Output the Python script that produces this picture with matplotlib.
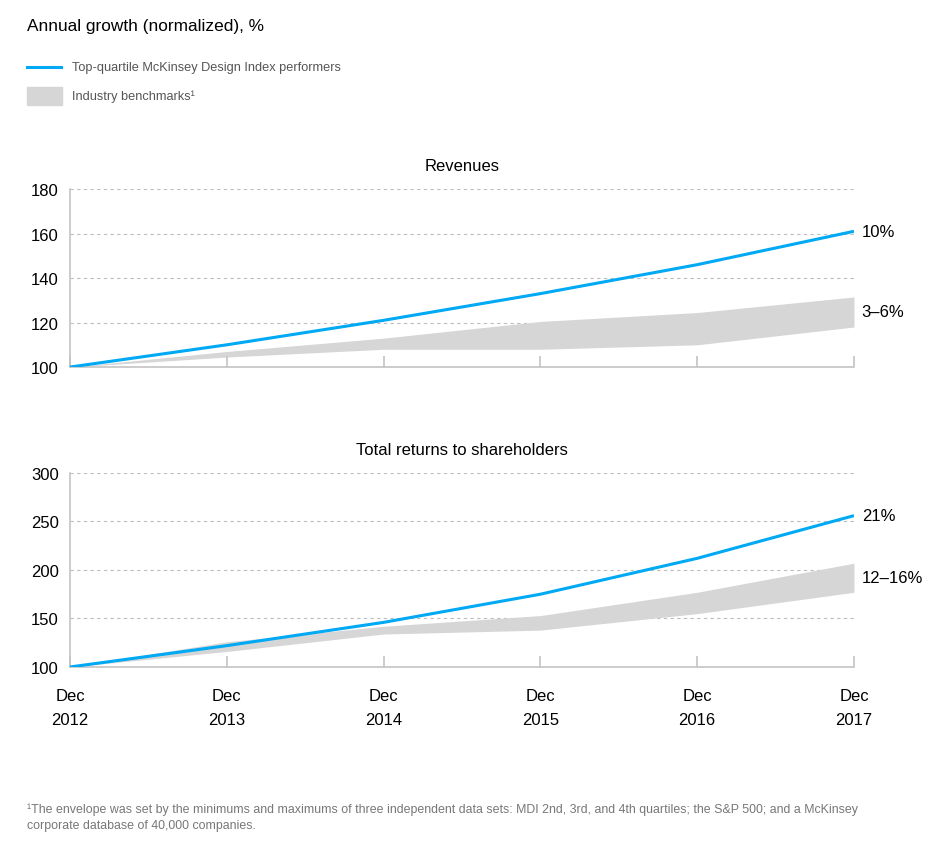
import matplotlib.pyplot as plt
from matplotlib.patches import Rectangle
from matplotlib.lines import Line2D

plt.rcParams['font.family'] = ['Liberation Sans', 'DejaVu Sans']

years = [2012, 2013, 2014, 2015, 2016, 2017]
year_labels = ['Dec\n2012', 'Dec\n2013', 'Dec\n2014', 'Dec\n2015', 'Dec\n2016', 'Dec\n2017']

rev_top = [100, 110, 121, 133, 146, 161]
rev_low = [100, 104.5, 108, 108, 110, 118]
rev_high = [100, 107, 113, 120.5, 124.5, 131.5]

tsr_top = [100, 122, 146, 175, 212, 256]
tsr_low = [100, 116, 134, 138, 155, 177]
tsr_high = [100, 126, 142, 153, 177, 207]

blue = '#00a9f4'
band = '#d6d6d6'
axis_grey = '#c4c4c4'
text_grey = '#555555'

fig = plt.figure(figsize=[9.52, 8.54], dpi=100)

def panel(rect, top, low, high, yticks, title, lab_top, lab_band, show_x):
    ax = fig.add_axes(rect)
    ax.fill_between(years, low, high, color=band, linewidth=0, zorder=1)
    ax.plot(years, top, color=blue, linewidth=2.2, zorder=3, solid_capstyle='butt')
    ax.set_xlim(years[0], years[-1])
    ax.set_ylim(yticks[0], yticks[-1])
    ax.set_yticks(yticks)
    ax.set_yticklabels([str(v) for v in yticks], fontsize=12)
    for v in yticks[1:]:
        ax.axhline(v, color='#bdbdbd', linestyle=(0, (3, 3)), linewidth=0.8, zorder=0)
    for s in ['top', 'right']:
        ax.spines[s].set_visible(False)
    for s in ['left', 'bottom']:
        ax.spines[s].set_color(axis_grey)
        ax.spines[s].set_linewidth(1.2)
    ax.tick_params(axis='y', length=0, pad=8)
    ax.set_xticks(years)
    ax.tick_params(axis='x', direction='in', length=8, width=1.2, color=axis_grey)
    if show_x:
        ax.set_xticklabels(year_labels, fontsize=12, linespacing=1.75)
        ax.tick_params(axis='x', pad=15)
    else:
        ax.set_xticklabels([])
    ax.set_title(title, fontsize=12, pad=14)
    ax.text(1.01, top[-1], lab_top, transform=ax.get_yaxis_transform(), fontsize=12, va='center')
    ax.text(1.01, (low[-1] + high[-1]) / 2, lab_band, transform=ax.get_yaxis_transform(), fontsize=12, va='center')
    return ax

panel([0.0735, 0.569, 0.8235, 0.2085], rev_top, rev_low, rev_high,
      [100, 120, 140, 160, 180], 'Revenues', '10%', '3\u20136%', False)
panel([0.0735, 0.2178, 0.8235, 0.2272], tsr_top, tsr_low, tsr_high,
      [100, 150, 200, 250, 300], 'Total returns to shareholders', '21%', '12\u201316%', True)

fig.text(27 / 952, 1 - 27 / 854, 'Annual growth (normalized), %', fontsize=12.4, va='center')
fig.add_artist(Line2D([27 / 952, 61 / 952], [1 - 68 / 854, 1 - 68 / 854], color=blue, linewidth=2.2))
fig.text(72 / 952, 1 - 68 / 854, 'Top-quartile McKinsey Design Index performers', fontsize=9.2, color=text_grey, va='center')
fig.add_artist(Rectangle((27 / 952, 1 - 106 / 854), 35 / 952, 18 / 854, color=band, transform=fig.transFigure))
fig.text(72 / 952, 1 - 97 / 854, 'Industry benchmarks\u00b9', fontsize=9.2, color=text_grey, va='center')

fig.text(27 / 952, 1 - 810 / 854,
         '\u00b9The envelope was set by the minimums and maximums of three independent data sets: MDI 2nd, 3rd, and 4th quartiles; the S&P 500; and a McKinsey',
         fontsize=8.9, color='#777777', va='center')
fig.text(27 / 952, 1 - 826 / 854, 'corporate database of 40,000 companies.', fontsize=8.9, color='#777777', va='center')

fig.savefig('out.png', dpi=100)
